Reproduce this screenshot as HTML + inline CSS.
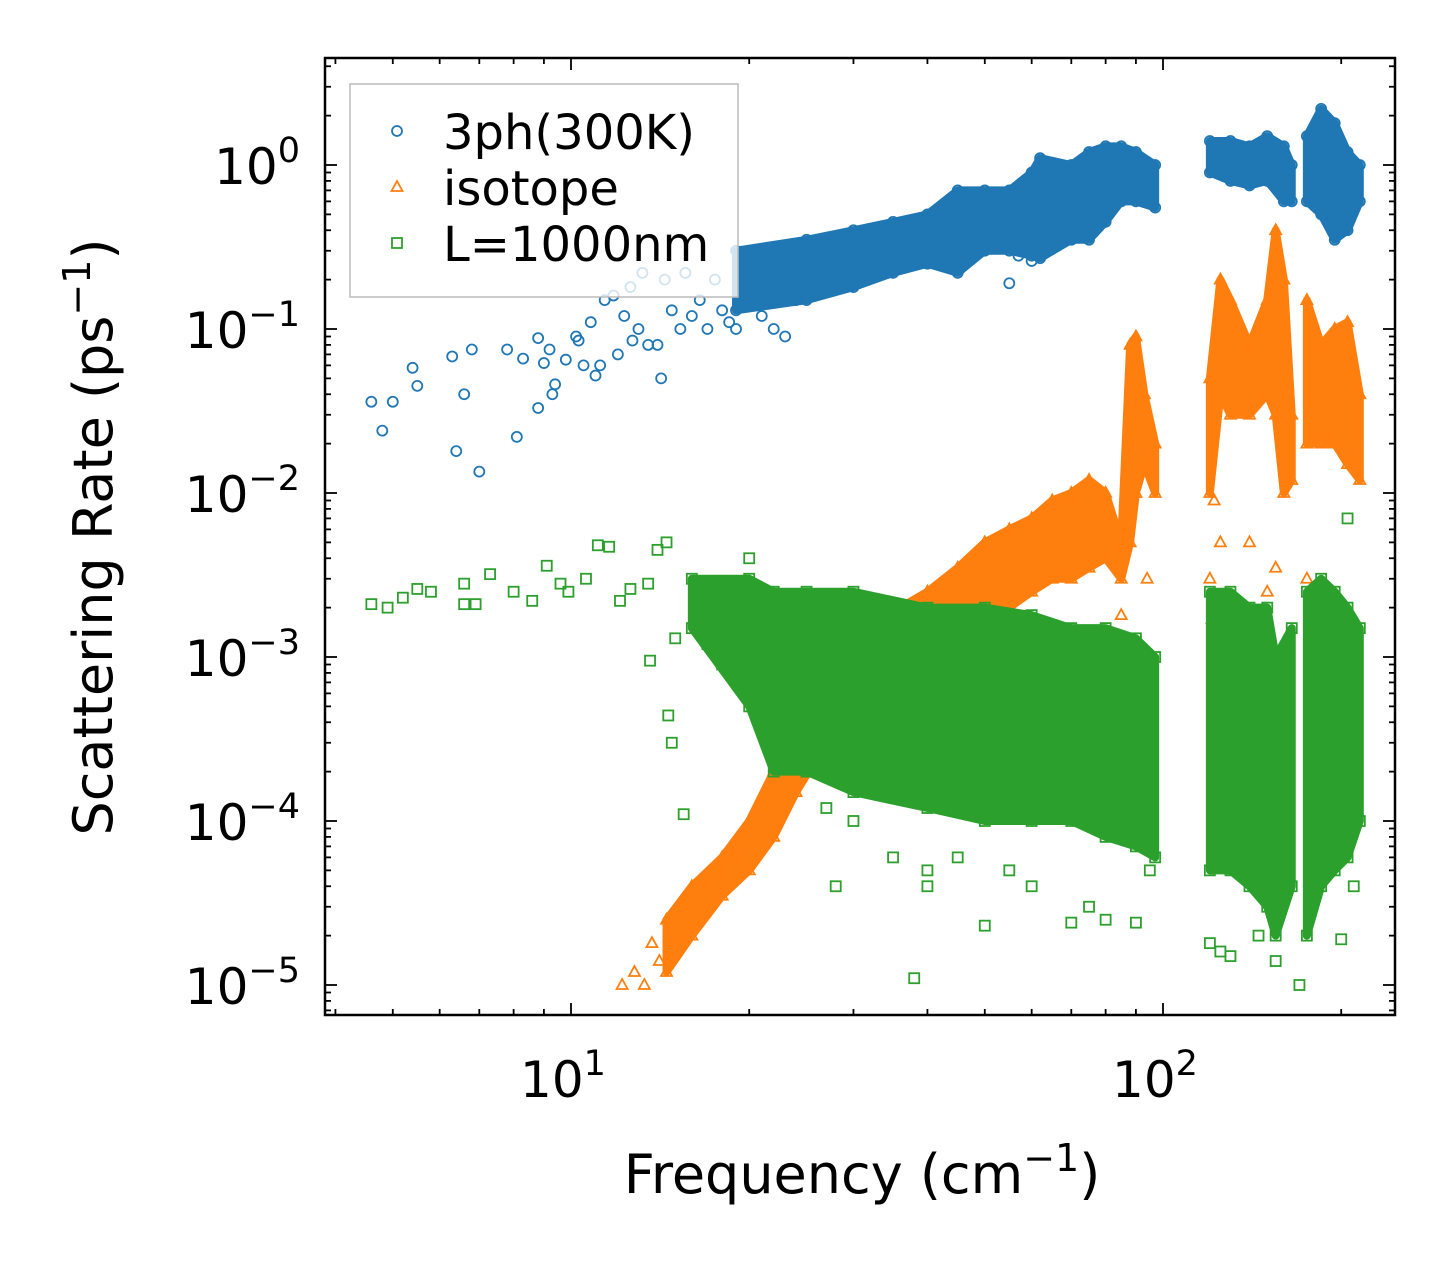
<!DOCTYPE html>
<html><head><meta charset="utf-8">
<style>
html,body{margin:0;padding:0;background:#fff;}
svg{display:block;font-family:"DejaVu Sans","Liberation Sans",sans-serif;}
</style></head>
<body>
<svg id="chart" width="1455" height="1265" viewBox="0 0 1455 1265" xmlns="http://www.w3.org/2000/svg">
<rect width="1455" height="1265" fill="#fff"/>
<defs><clipPath id="plotclip"><rect x="325" y="58" width="1070" height="957"/></clipPath></defs>
<g id="marks" clip-path="url(#plotclip)"></g>
<g id="axes"></g>
<text x="862" y="1193" text-anchor="middle" font-size="54">Frequency (cm<tspan dy="-22" font-size="38">−1</tspan><tspan dy="22">)</tspan></text>
<text transform="translate(112,537) rotate(-90)" text-anchor="middle" font-size="54">Scattering Rate (ps<tspan dy="-22" font-size="38">−1</tspan><tspan dy="22">)</tspan></text>
<g id="legend"></g>
</svg>
<script>
// ---- data ----
const blueX=[4.6,4.8,5,5.4,5.5,6.3,6.4,6.6,6.8,7,7.8,8.1,8.3,8.8,8.8,9,9.2,9.3,9.4,9.8,10.2,10.3,10.5,10.8,11,11.2,11.4,11.8,12,12.3,12.6,12.7,13,13.2,13.5,14,14.2,14.4,14.8,15.3,15.6,16,16.5,17,17.5,18,18.5,19,21,22,23,24,55,57,60];
const blueY=[0.036,0.024,0.036,0.058,0.045,0.068,0.018,0.04,0.075,0.0135,0.075,0.022,0.066,0.088,0.033,0.062,0.075,0.04,0.046,0.065,0.09,0.085,0.06,0.11,0.052,0.06,0.15,0.16,0.07,0.12,0.18,0.085,0.1,0.22,0.08,0.08,0.05,0.2,0.13,0.1,0.22,0.12,0.15,0.1,0.2,0.13,0.11,0.1,0.12,0.1,0.09,0.15,0.19,0.28,0.26];
const blueBandX=[[19,25,30,35,40,45,50,55,60,62,70,75,80,85,90,97],[120,130,140,150,160,165],[175,185,195,205,215]];
const blueBandLo=[[0.13,0.15,0.18,0.22,0.25,0.22,0.3,0.3,0.28,0.27,0.35,0.35,0.45,0.6,0.6,0.55],[0.9,0.8,0.75,0.8,0.6,0.6],[0.6,0.5,0.35,0.4,0.6]];
const blueBandHi=[[0.3,0.35,0.4,0.45,0.5,0.7,0.7,0.7,0.9,1.1,1.0,1.2,1.3,1.3,1.2,1.0],[1.4,1.4,1.3,1.5,1.3,1.0],[1.5,2.2,1.8,1.2,1.0]];

const orangeX=[12.2,12.8,13.3,13.7,14.1,15,16,17,18,19,85,94,120,121,122,125,140,150,155,175,185,210];
const orangeY=[1e-5,1.2e-5,1e-5,1.8e-5,1.4e-5,2.5e-5,3e-5,4e-5,5e-5,6e-5,1.8e-3,3e-3,3e-3,1.7e-3,9e-3,5e-3,5e-3,2.5e-3,3.5e-3,3e-3,2.5e-3,9e-4];
const orangeBandX=[[14.5,16,18,20,22,24,27,31,36,40,45,50,55,60,65,70,75,80,85,88,90,93,97],[120,125,130,140,150,155,160,165],[175,185,195,205,215]];
const orangeBandLo=[[1.2e-5,2e-5,3.5e-5,5e-5,8e-5,1.5e-4,3e-4,6e-4,8e-4,1e-3,1.3e-3,1.5e-3,2e-3,2.5e-3,3e-3,3e-3,3.5e-3,4e-3,3e-3,5e-3,1e-2,1.5e-2,1e-2],[1e-2,4e-2,3e-2,3e-2,4e-2,3e-2,1e-2,1.2e-2],[2e-2,2e-2,2e-2,1.5e-2,1.2e-2]];
const orangeBandHi=[[2.5e-5,4e-5,6e-5,1e-4,2e-4,4e-4,8e-4,1.4e-3,2e-3,2.5e-3,3.5e-3,5e-3,6e-3,7e-3,9e-3,1e-2,1.2e-2,1e-2,5e-3,8e-2,9e-2,4e-2,2e-2],[5e-2,2e-1,1.5e-1,8e-2,1.5e-1,4e-1,2e-1,3e-2],[1.5e-1,8e-2,1e-1,1.1e-1,4e-2]];

const greenX=[4.6,4.9,5.2,5.5,5.8,6.6,6.6,6.9,7.3,8,8.6,9.1,9.6,9.9,10.6,11.1,11.6,12.1,12.6,13.5,14,14.5,15,13.6,14.6,14.8,15.5,17,18,19,20,22,25,27,28,30,35,38,40,40,45,50,55,60,70,75,80,90,95,120,125,130,145,155,170,200,205,210];
const greenY=[2.1e-3,2e-3,2.3e-3,2.6e-3,2.5e-3,2.8e-3,2.1e-3,2.1e-3,3.2e-3,2.5e-3,2.2e-3,3.6e-3,2.8e-3,2.5e-3,3e-3,4.8e-3,4.7e-3,2.2e-3,2.6e-3,2.8e-3,4.5e-3,5e-3,1.3e-3,9.5e-4,4.4e-4,3e-4,1.1e-4,1.2e-3,9e-4,1.5e-3,4e-3,2.5e-4,2e-4,1.2e-4,4e-5,1e-4,6e-5,1.1e-5,5e-5,4e-5,6e-5,2.3e-5,5e-5,4e-5,2.4e-5,3e-5,2.5e-5,2.4e-5,5e-5,1.8e-5,1.6e-5,1.5e-5,2e-5,1.4e-5,1e-5,1.9e-5,7e-3,4e-5];
const greenBandX=[[16,20,22,25,30,40,50,60,70,80,90,97],[120,130,140,150,155,165],[175,185,195,205,215]];
const greenBandLo=[[1.5e-3,5e-4,2e-4,2e-4,1.5e-4,1.2e-4,1e-4,1e-4,1e-4,8e-5,7e-5,6e-5],[5e-5,5e-5,4e-5,3e-5,2e-5,4e-5],[2e-5,4e-5,5e-5,6e-5,1e-4]];
const greenBandHi=[[3e-3,3e-3,2.5e-3,2.5e-3,2.5e-3,2e-3,2e-3,1.8e-3,1.5e-3,1.5e-3,1.3e-3,1e-3],[2.5e-3,2.5e-3,2e-3,2e-3,1e-3,1.5e-3],[2.5e-3,3e-3,2.5e-3,2e-3,1.5e-3]];

const xTickVals=[10,100];
const xTickExp=["1","2"];
const yTickVals=[1,0.1,0.01,0.001,1e-4,1e-5];
const yTickExp=["0","−1","−2","−3","−4","−5"];

// ---- scales ----
const NS="http://www.w3.org/2000/svg";
const X0=325,X1=1395,Y0=58,Y1=1015;
const xs=v=>571+(Math.log10(v)-1)*592;
const ys=v=>165-Math.log10(v)*164;
const marks=document.getElementById('marks');
const axes=document.getElementById('axes');
function mk(tag,attrs,parent){const e=document.createElementNS(NS,tag);for(const k in attrs)e.setAttribute(k,attrs[k]);parent.appendChild(e);return e;}

const C={blue:'#1f77b4',orange:'#ff7f0e',green:'#2ca02c'};
function drawMarker(kind,x,y,color,parent){
  let e;
  if(kind==='circle'){e=mk('circle',{cx:x,cy:y,r:5,fill:'none',stroke:color,'stroke-width':1.8},parent);}
  else if(kind==='tri'){e=mk('polygon',{points:`${x},${y-6} ${x-5.5},${y+4} ${x+5.5},${y+4}`,fill:'none',stroke:color,'stroke-width':1.8},parent);}
  else {e=mk('rect',{x:x-5,y:y-5,width:10,height:10,fill:'none',stroke:color,'stroke-width':1.8},parent);}
  return e;
}
function drawSeries(name,kind,color,px,py,bx,blo,bhi){
  const g=mk('g',{},marks);
  
  
  bx.forEach((seg,si)=>{
    let pts=seg.map((f,i)=>xs(f)+','+ys(bhi[si][i]));
    pts=pts.concat(seg.map((f,i)=>xs(f)+','+ys(blo[si][i])).reverse());
    const p=mk('polygon',{points:pts.join(' '),fill:color,stroke:color,'stroke-width':8,'stroke-linejoin':'round'},g);
    
    
    seg.forEach((f,i)=>{
      const m1=drawMarker(kind,xs(f),ys(bhi[si][i]),color,g);
      
      
      const m2=drawMarker(kind,xs(f),ys(blo[si][i]),color,g);
      
      
    });
  });
  px.forEach((f,i)=>{
    const m=drawMarker(kind,xs(f),ys(py[i]),color,g);
    
    
  });
}
drawSeries('3ph','circle',C.blue,blueX,blueY,blueBandX,blueBandLo,blueBandHi);
drawSeries('isotope','tri',C.orange,orangeX,orangeY,orangeBandX,orangeBandLo,orangeBandHi);
drawSeries('boundary','square',C.green,greenX,greenY,greenBandX,greenBandLo,greenBandHi);

// ---- axes ----
const frame=mk('rect',{x:X0,y:Y0,width:X1-X0,height:Y1-Y0,fill:'none',stroke:'#000','stroke-width':2.5},axes);


for(let d=0;d<=2;d++){for(let m=1;m<=9;m++){const v=m*Math.pow(10,d);const x=xs(v);if(x<X0||x>X1)continue;const L=m===1?12:6;
  mk('line',{x1:x,y1:Y1,x2:x,y2:Y1-L,stroke:'#000','stroke-width':1.8},axes);
  mk('line',{x1:x,y1:Y0,x2:x,y2:Y0+L,stroke:'#000','stroke-width':1.8},axes);}}
xTickVals.forEach((v,i)=>{
  const t=mk('text',{x:xs(v)-8,y:1097,'text-anchor':'middle','font-size':50},axes);
  t.textContent='10';
  const s=mk('tspan',{dy:-22,'font-size':35},t);s.textContent=xTickExp[i];
  
  
});
for(let d=-6;d<=0;d++){for(let m=1;m<=9;m++){const v=m*Math.pow(10,d);const y=ys(v);if(y<Y0||y>Y1)continue;const L=m===1?12:6;
  mk('line',{x1:X0,y1:y,x2:X0+L,y2:y,stroke:'#000','stroke-width':1.8},axes);
  mk('line',{x1:X1,y1:y,x2:X1-L,y2:y,stroke:'#000','stroke-width':1.8},axes);}}
yTickVals.forEach((v,i)=>{
  const t=mk('text',{x:300,y:ys(v)+19,'text-anchor':'end','font-size':50},axes);
  t.textContent='10';
  const s=mk('tspan',{dy:-22,'font-size':35},t);s.textContent=yTickExp[i];
  
  
});

// ---- legend ----
const lg=document.getElementById('legend');
mk('rect',{x:350,y:84,width:388,height:213,fill:'#fff','fill-opacity':0.8,stroke:'#bbb','stroke-width':1.5},lg);
const lgItems=[['3ph(300K)','circle',C.blue],['isotope','tri',C.orange],['L=1000nm','square',C.green]];
lgItems.forEach((it,i)=>{
  const y=133+i*56;
  const m=drawMarker(it[1],397,y-2,it[2],lg);
  
  
  const t=mk('text',{x:443,y:y+16,'font-size':48},lg);
  t.textContent=it[0];
  
  
});
</script>
</body></html>
